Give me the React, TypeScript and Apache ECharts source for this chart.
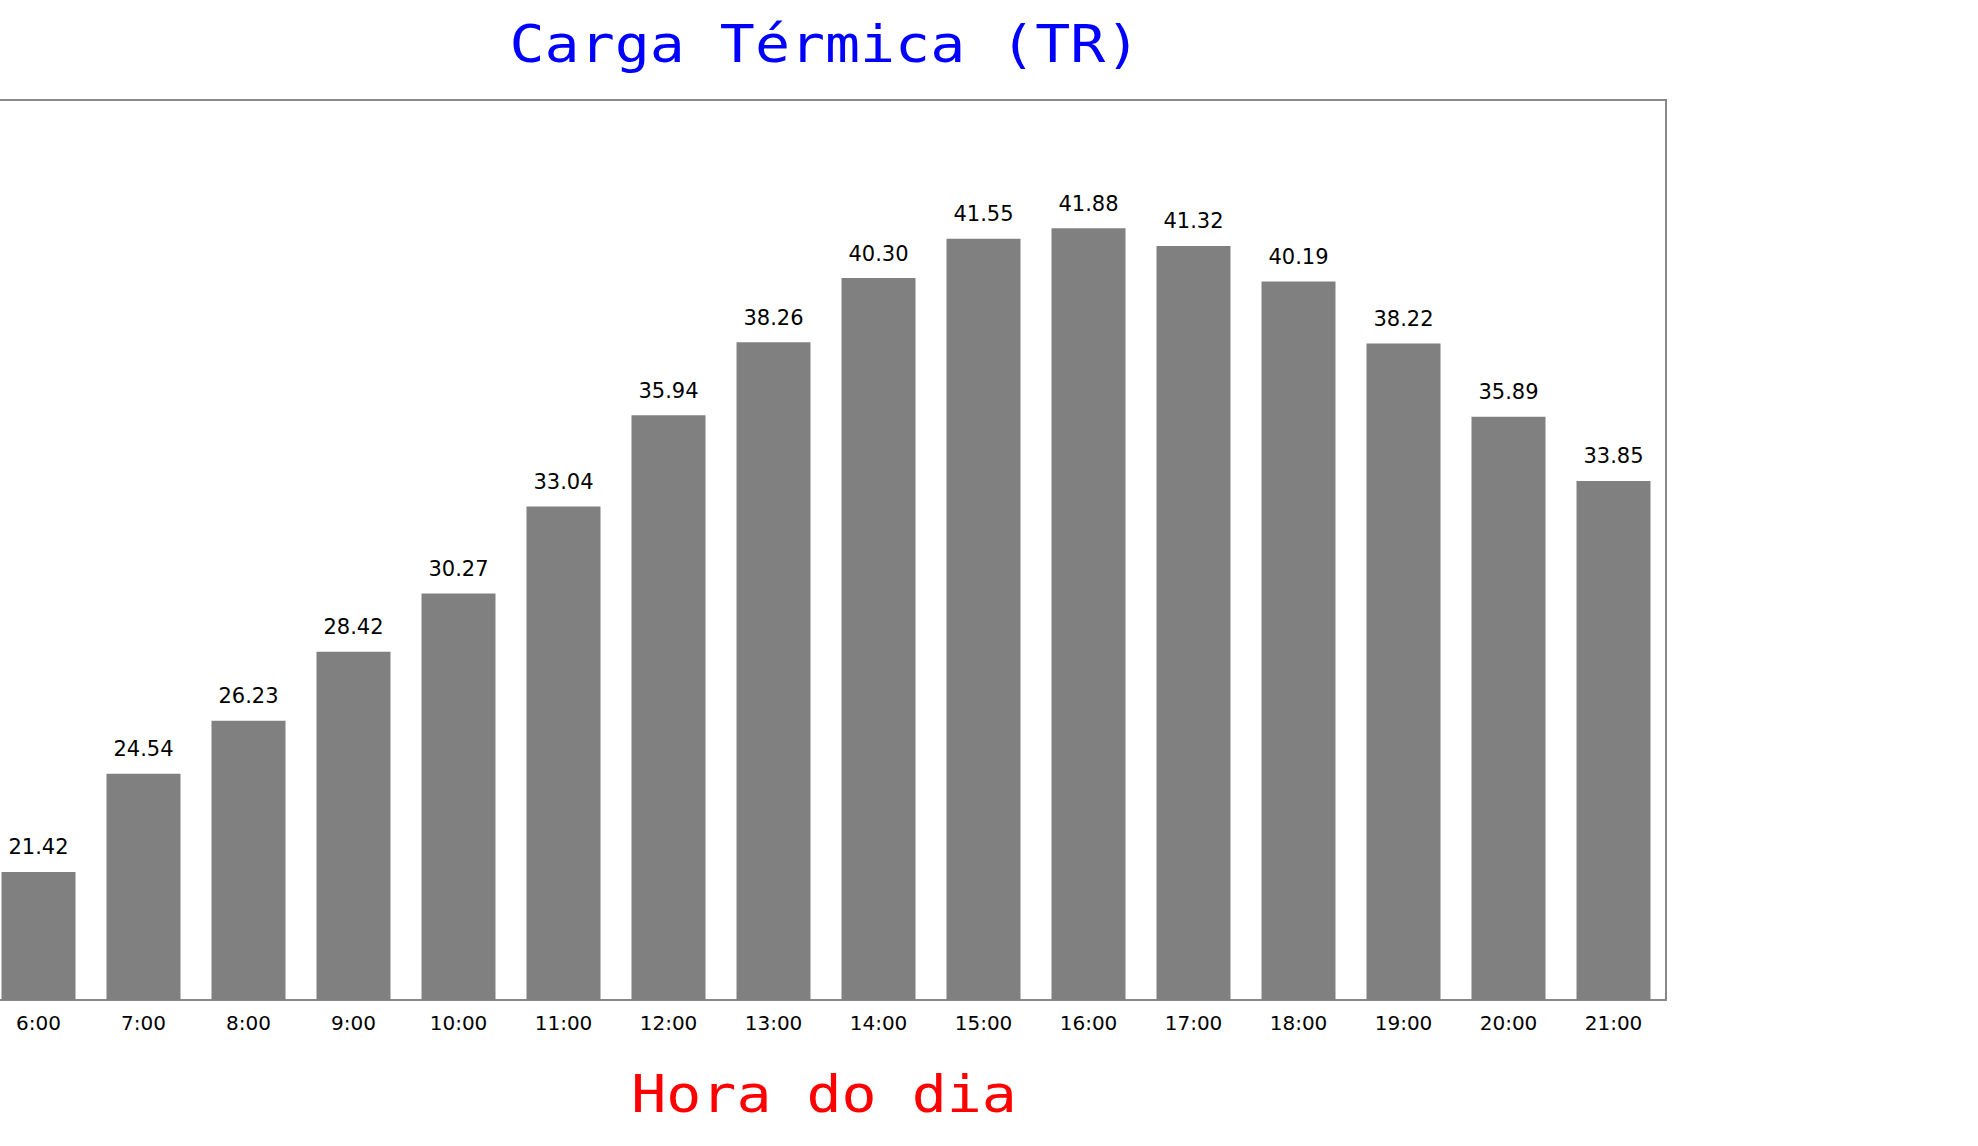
import React, { useEffect, useRef } from "react";
import * as echarts from "echarts";

const hours = ["6:00", "7:00", "8:00", "9:00", "10:00", "11:00", "12:00", "13:00", "14:00", "15:00", "16:00", "17:00", "18:00", "19:00", "20:00", "21:00"];
const loads = [21.42, 24.54, 26.23, 28.42, 30.27, 33.04, 35.94, 38.26, 40.30, 41.55, 41.88, 41.32, 40.19, 38.22, 35.89, 33.85];
const titleText = "Carga Térmica (TR)";
const xAxisTitle = "Hora do dia";
const yMin = 17.35;
const yMax = 45.96;

// the plot's left edge lies 14px left of the page, so the chart div is shifted
const SHIFT = 14;

export default function App() {
  const ref = useRef<HTMLDivElement>(null);
  useEffect(() => {
    if (!ref.current) return;
    const chart = echarts.init(ref.current, null, { renderer: "svg" });
    chart.setOption({
      animation: false,
      backgroundColor: "#ffffff",
      grid: {
        left: 0,
        right: 312,
        top: 100,
        bottom: 146,
        show: true,
        borderColor: "#888888",
        borderWidth: 2,
        backgroundColor: "transparent",
      },
      graphic: [
        {
          type: "text",
          x: 825 + SHIFT,
          y: 44,
          scaleX: 1.12,
          style: {
            text: titleText,
            x: 0,
            y: 0,
            fill: "#0000ff",
            font: "52px 'DejaVu Sans Mono'",
            textAlign: "center",
            textVerticalAlign: "middle",
          },
        },
        {
          type: "text",
          x: 824 + SHIFT,
          y: 1094,
          scaleX: 1.12,
          style: {
            text: xAxisTitle,
            x: 0,
            y: 0,
            fill: "#ff0000",
            font: "52px 'DejaVu Sans Mono'",
            textAlign: "center",
            textVerticalAlign: "middle",
          },
        },
      ],
      xAxis: {
        type: "category",
        data: hours,
        axisLine: { show: false },
        axisTick: { show: false },
        axisLabel: {
          color: "#000000",
          fontFamily: "DejaVu Sans",
          fontSize: 20,
          margin: 13,
        },
      },
      yAxis: {
        type: "value",
        min: yMin,
        max: yMax,
        show: false,
        splitLine: { show: false },
      },
      series: [
        {
          type: "bar",
          data: loads,
          barWidth: 74,
          itemStyle: { color: "#808080" },
          label: {
            show: true,
            position: "top",
            distance: 14,
            color: "#000000",
            fontFamily: "DejaVu Sans",
            fontSize: 21,
            formatter: (p: any) => Number(p.value).toFixed(2),
          },
        },
      ],
    });
    return () => chart.dispose();
  }, []);
  return (
    <div
      ref={ref}
      style={{ position: "fixed", left: -SHIFT, top: 0, width: 1978 + SHIFT, height: 1146 }}
    />
  );
}
